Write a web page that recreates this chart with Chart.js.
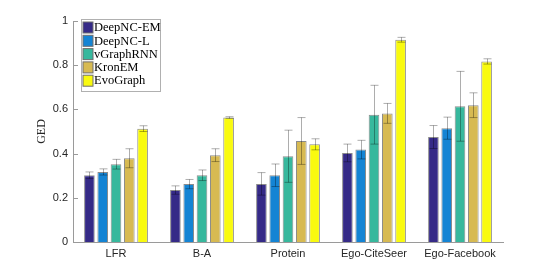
<!DOCTYPE html>
<html>
<head>
<meta charset="utf-8">
<script src="https://cdn.jsdelivr.net/npm/chart.js@4.4.1/dist/chart.umd.min.js"></script>
<style>
  body { margin: 0; background: #fff; }
  #wrap { width: 556px; height: 272px; }
</style>
</head>
<body>
<div id="wrap"><canvas id="myChart"></canvas></div>
<script>
var categories = ["LFR", "B-A", "Protein", "Ego-CiteSeer", "Ego-Facebook"];
var seriesNames = ["DeepNC-EM", "DeepNC-L", "vGraphRNN", "KronEM", "EvoGraph"];

var deepncEm    = [0.302, 0.235, 0.263, 0.403, 0.475];
var deepncEmErr = [0.015, 0.019, 0.051, 0.040, 0.052];
var deepncL     = [0.317, 0.262, 0.302, 0.418, 0.515];
var deepncLErr  = [0.014, 0.021, 0.051, 0.042, 0.050];
var vgraph      = [0.352, 0.302, 0.388, 0.576, 0.614];
var vgraphErr   = [0.022, 0.024, 0.118, 0.133, 0.158];
var kronem      = [0.379, 0.393, 0.457, 0.582, 0.619];
var kronemErr   = [0.043, 0.029, 0.106, 0.045, 0.056];
var evograph    = [0.513, 0.563, 0.442, 0.915, 0.817];
var evographErr = [0.013, 0.004, 0.025, 0.011, 0.012];

var yTicks = [0, 0.2, 0.4, 0.6, 0.8, 1];
var yTickLabels = ["0", "0.2", "0.4", "0.6", "0.8", "1"];

var barColors = ["rgb(53,42,135)", "rgb(20,132,212)", "rgb(55,184,157)", "rgb(215,186,82)", "rgb(249,250,15)"];
var allValues = [deepncEm, deepncL, vgraph, kronem, evograph];
var allErrors = [deepncEmErr, deepncLErr, vgraphErr, kronemErr, evographErr];

var datasets = seriesNames.map(function(name, i){
  return {
    label: name,
    data: allValues[i],
    errors: allErrors[i],
    backgroundColor: barColors[i],
    borderColor: "#8c8c8c",
    borderWidth: 1,
    categoryPercentage: 0.773,
    barPercentage: 0.8
  }
})

// error bars, inward y ticks and the boxed legend
var extras = {
  id: "extras",
  afterDatasetsDraw: function(chart){
    var ctx = chart.ctx
    var y = chart.scales.y
    ctx.save()
    ctx.strokeStyle = "rgba(0,0,0,0.32)"
    ctx.lineWidth = 1
    chart.data.datasets.forEach(function(ds, i){
      var meta = chart.getDatasetMeta(i)
      meta.data.forEach(function(bar, j){
        var x = Math.round(bar.x) + 0.5
        var top = y.getPixelForValue(ds.data[j] + ds.errors[j])
        var bot = y.getPixelForValue(ds.data[j] - ds.errors[j])
        ctx.beginPath()
        ctx.moveTo(x, top); ctx.lineTo(x, bot)
        ctx.moveTo(x - 4, top); ctx.lineTo(x + 4, top)
        ctx.moveTo(x - 4, bot); ctx.lineTo(x + 4, bot)
        ctx.stroke()
      })
    })
    ctx.restore()
  },
  afterDraw: function(chart){
    var ctx = chart.ctx
    var area = chart.chartArea
    var y = chart.scales.y
    ctx.save()
    ctx.strokeStyle = "#9a9a9a"
    ctx.lineWidth = 1
    yTicks.forEach(function(t){
      var py = Math.round(y.getPixelForValue(t)) + 0.5
      ctx.beginPath()
      ctx.moveTo(area.left, py)
      ctx.lineTo(area.left + 5, py)
      ctx.stroke()
    })

    var lx = area.left + 8.5, ly = area.top - 1.5
    var rowH = 13.3
    ctx.fillStyle = "#fff"
    ctx.fillRect(lx, ly, 79, 72)
    ctx.strokeStyle = "#b0b0b0"
    ctx.strokeRect(lx, ly, 79, 72)
    ctx.font = "12.5px 'Liberation Serif'"
    ctx.textBaseline = "middle"
    chart.data.datasets.forEach(function(ds, i){
      var sy = ly + 2.5 + i * rowH
      ctx.fillStyle = ds.backgroundColor
      ctx.fillRect(lx + 1.5, sy, 10, 11)
      ctx.strokeStyle = "#6e6e6e"
      ctx.strokeRect(lx + 1.5, sy, 10, 11)
      ctx.fillStyle = "#000"
      ctx.fillText(ds.label, lx + 12.5, sy + 6)
    })
    ctx.restore()
  }
}

new Chart("myChart", {
  type: "bar",
  data: {
    labels: categories,
    datasets: datasets
  },
  plugins: [extras],
  options: {
    responsive: true,
    maintainAspectRatio: false,
    animation: false,
    layout: {padding: {left: 35, right: 53, top: 21, bottom: 0}},
    plugins: {
      legend: {display: false},
      tooltip: {enabled: false}
    },
    scales: {
      x: {
        grid: {display: false, drawTicks: false},
        border: {display: true, color: "#9a9a9a", width: 1},
        ticks: {color: "#262626", font: {family: "'Liberation Sans'", size: 11}, padding: 5, maxRotation: 0},
        afterFit: function(s){ s.height = 30 }
      },
      y: {
        min: 0,
        max: 1,
        afterBuildTicks: function(s){ s.ticks = yTicks.map(function(v){ return {value: v} }) },
        grid: {display: false, drawTicks: false},
        border: {display: true, color: "#9a9a9a", width: 1},
        ticks: {
          color: "#262626", font: {family: "'Liberation Sans'", size: 11}, padding: 5,
          callback: function(v, i){ return yTickLabels[i] }
        },
        title: {display: true, text: "GED", color: "#262626", font: {family: "'Liberation Serif'", size: 12}, padding: 0},
        afterFit: function(s){ s.width = 38 }
      }
    }
  }
});
</script>
</body>
</html>
